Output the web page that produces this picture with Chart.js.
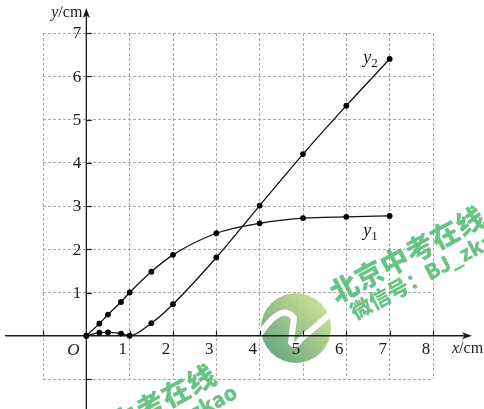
<!DOCTYPE html>
<html>
<head>
<meta charset="utf-8">
<script src="https://cdn.jsdelivr.net/npm/chart.js@4/dist/chart.umd.min.js"></script>
<style>
  html, body { margin: 0; padding: 0; background: #ffffff; }
  canvas { display: block; }
</style>
</head>
<body>
<canvas id="chart" width="484" height="409"></canvas>
<script>
// Measured positions x (cm) and the two distances y1, y2 (cm)
const xValues  = [0, 0.3, 0.5, 0.8, 1, 1.5, 2, 3, 4, 5, 6, 7];
const y1Values = [0, 0.28, 0.49, 0.78, 1.0, 1.48, 1.87, 2.37, 2.6, 2.72, 2.75, 2.77];
const y2Values = [0, 0.07, 0.08, 0.05, 0, 0.29, 0.73, 1.81, 3.01, 4.2, 5.32, 6.4];

// Axis ticks and their labels
const xTicks = [-1, 1, 2, 3, 4, 5, 6, 7, 8];
const xTickLabels = ['', '1', '2', '3', '4', '5', '6', '7', '8'];
const yTicks = [-1, 1, 2, 3, 4, 5, 6, 7];
const yTickLabels = ['', '1', '2', '3', '4', '5', '6', '7'];

// Curve names and where they are written (data units)
const seriesNames = ['1', '2'];
const seriesLabelAt = [[6.39, 2.38], [6.39, 6.38]];

const INK = '#1c1c1c';
const SERIF = '"Times New Roman", "Liberation Serif", serif';

function toPoints(ys) { return xValues.map((x, i) => ({ x: x, y: ys[i] })); }

function drawArrowHead(ctx, tipX, tipY, dirX, dirY) {
  const len = 10, half = 3.6, notch = 2.5;
  const bx = tipX - dirX * len, by = tipY - dirY * len;
  const nx = -dirY, ny = dirX;
  ctx.beginPath();
  ctx.moveTo(tipX, tipY);
  ctx.lineTo(bx + nx * half, by + ny * half);
  ctx.lineTo(bx + dirX * notch, by + dirY * notch);
  ctx.lineTo(bx - nx * half, by - ny * half);
  ctx.closePath();
  ctx.fill();
}

function drawLogo(ctx) {
  const cx = 296, cy = 328, r = 35;
  ctx.save();
  ctx.globalAlpha = 0.9;
  const g = ctx.createLinearGradient(cx - 28, cy + 28, cx + 30, cy - 28);
  g.addColorStop(0, 'rgb(88,158,112)');
  g.addColorStop(1, 'rgb(205,224,142)');
  ctx.fillStyle = g;
  ctx.beginPath();
  ctx.arc(cx, cy, r, 0, Math.PI * 2);
  ctx.fill();
  ctx.globalAlpha = 1;
  ctx.strokeStyle = '#ffffff';
  ctx.lineWidth = 6;
  ctx.lineCap = 'round';
  ctx.lineJoin = 'round';
  ctx.beginPath();
  ctx.moveTo(258, 337);
  ctx.bezierCurveTo(270, 318, 284, 305, 294, 318);
  ctx.lineTo(291, 342);
  ctx.quadraticCurveTo(295, 348, 301, 339);
  ctx.lineTo(336, 309);
  ctx.stroke();
  ctx.restore();
}

function drawWatermark(ctx, ox, oy) {
  const ang = -28 * Math.PI / 180;
  ctx.save();
  ctx.translate(ox, oy);
  ctx.rotate(ang);
  ctx.fillStyle = 'rgba(78,184,112,0.85)';
  ctx.textBaseline = 'middle';
  ctx.textAlign = 'center';
  ctx.font = '900 28px "Noto Sans CJK SC"';
  const big = '北京中考在线';
  for (let i = 0; i < big.length; i++) ctx.fillText(big[i], i * 28.5, 0);
  ctx.textAlign = 'left';
  ctx.font = '900 21px "Noto Sans CJK SC"';
  ctx.fillText('微信号：BJ_zkao', -5, 26);
  ctx.restore();
}

const overlay = {
  id: 'axesOverlay',
  beforeDatasetsDraw(chart) {
    const ctx = chart.ctx;
    const xs = chart.scales.x, ys = chart.scales.y;
    const x0 = xs.getPixelForValue(0), y0 = ys.getPixelForValue(0);
    const W = chart.width, H = chart.height;

    drawLogo(ctx);

    ctx.save();
    ctx.strokeStyle = INK;
    ctx.fillStyle = INK;
    ctx.lineWidth = 1.3;
    // x axis
    ctx.beginPath();
    ctx.moveTo(5, y0);
    ctx.lineTo(W - 16, y0);
    ctx.stroke();
    drawArrowHead(ctx, W - 12, y0, 1, 0);
    // y axis
    ctx.beginPath();
    ctx.moveTo(x0, H);
    ctx.lineTo(x0, 14);
    ctx.stroke();
    drawArrowHead(ctx, x0, 8, 0, -1);

    // tick marks
    ctx.lineWidth = 1.2;
    xTicks.forEach(v => {
      const px = Math.round(xs.getPixelForValue(v)) + 0.5;
      ctx.beginPath(); ctx.moveTo(px, y0 + 0.5); ctx.lineTo(px, y0 - 5); ctx.stroke();
    });
    yTicks.forEach(v => {
      const py = Math.round(ys.getPixelForValue(v)) + 0.5;
      ctx.beginPath(); ctx.moveTo(x0, py); ctx.lineTo(x0 + 5.5, py); ctx.stroke();
    });

    // tick labels
    ctx.font = '17px ' + SERIF;
    ctx.textBaseline = 'middle';
    ctx.textAlign = 'center';
    xTicks.forEach((v, i) => {
      if (!xTickLabels[i]) return;
      ctx.fillText(xTickLabels[i], xs.getPixelForValue(v) - 7, y0 + 14);
    });
    ctx.textAlign = 'right';
    yTicks.forEach((v, i) => {
      if (!yTickLabels[i]) return;
      ctx.fillText(yTickLabels[i], x0 - 5, ys.getPixelForValue(v) + 1);
    });

    // origin
    ctx.textAlign = 'center';
    ctx.font = 'italic 17px ' + SERIF;
    ctx.fillText('O', x0 - 13, y0 + 15);

    // axis titles
    ctx.textAlign = 'left';
    let tx = W - 32;
    ctx.font = 'italic 16px ' + SERIF;
    ctx.fillText('x', tx, y0 + 13);
    tx += ctx.measureText('x').width;
    ctx.font = '16px ' + SERIF;
    ctx.fillText('/cm', tx, y0 + 13);

    ctx.textAlign = 'right';
    ctx.font = '16px ' + SERIF;
    const cmW = ctx.measureText('/cm').width;
    ctx.fillText('/cm', x0 - 4, 13);
    ctx.font = 'italic 16px ' + SERIF;
    ctx.fillText('y', x0 - 4 - cmW, 13);
    ctx.restore();
  },
  afterDraw(chart) {
    const ctx = chart.ctx;
    const xs = chart.scales.x, ys = chart.scales.y;
    ctx.save();
    ctx.fillStyle = INK;
    ctx.textBaseline = 'middle';
    ctx.textAlign = 'left';
    seriesNames.forEach((name, i) => {
      const px = xs.getPixelForValue(seriesLabelAt[i][0]);
      const py = ys.getPixelForValue(seriesLabelAt[i][1]);
      ctx.font = 'italic 18px ' + SERIF;
      ctx.fillText('y', px, py - 2);
      const w = ctx.measureText('y').width;
      ctx.font = '13px ' + SERIF;
      ctx.fillText(name, px + w, py + 4);
    });
    ctx.restore();

    drawWatermark(ctx, 344, 288);
    drawWatermark(ctx, 75, 446);
  }
};

const curveStyle = {
  borderColor: '#111111',
  borderWidth: 1.3,
  pointRadius: 2.9,
  pointBackgroundColor: '#000000',
  pointBorderWidth: 0,
  pointHoverRadius: 2.9,
  fill: false,
  cubicInterpolationMode: 'monotone'
};

new Chart(document.getElementById('chart'), {
  type: 'line',
  data: {
    datasets: [
      Object.assign({ label: 'y1', data: toPoints(y1Values) }, curveStyle),
      Object.assign({ label: 'y2', data: toPoints(y2Values) }, curveStyle)
    ]
  },
  options: {
    responsive: false,
    animation: false,
    events: [],
    layout: { padding: { left: 43, right: 51, top: 33, bottom: 30 } },
    plugins: { legend: { display: false }, tooltip: { enabled: false } },
    scales: {
      x: {
        type: 'linear', min: -1, max: 8,
        ticks: { display: false, stepSize: 1 },
        grid: { color: '#a9a9a9', lineWidth: 1, drawTicks: false },
        border: { display: false, dash: [3, 2] }
      },
      y: {
        type: 'linear', min: -1, max: 7,
        ticks: { display: false, stepSize: 1 },
        grid: { color: '#a9a9a9', lineWidth: 1, drawTicks: false },
        border: { display: false, dash: [3, 2] }
      }
    }
  },
  plugins: [overlay]
});
</script>
</body>
</html>
